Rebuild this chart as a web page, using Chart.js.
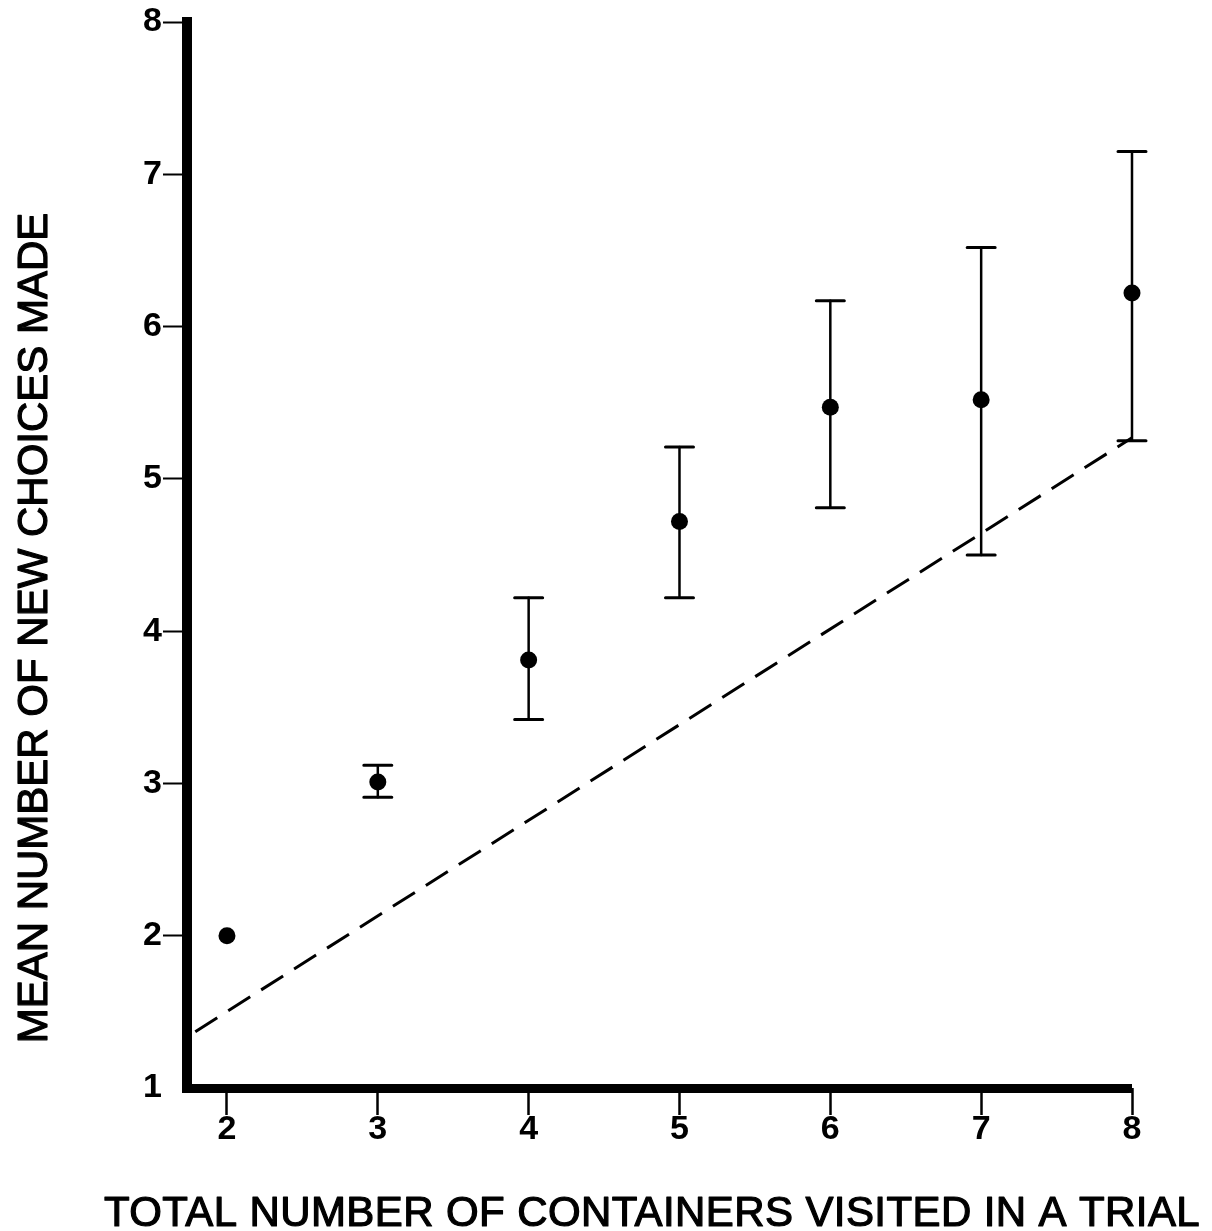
<!DOCTYPE html>
<html>
<head>
<meta charset="utf-8">
<title>New choices per trial</title>
<script src="https://cdn.jsdelivr.net/npm/chart.js@4/dist/chart.umd.min.js"></script>
<style>
  html, body { margin: 0; padding: 0; background: #fff; }
  canvas { display: block; }
</style>
</head>
<body>
<canvas id="myChart" width="1212" height="1231"></canvas>
<script>
// containers visited in a trial and the mean number of new choices
const trials = [2, 3, 4, 5, 6, 7, 8];
const meanNew = [2.0, 3.01, 3.81, 4.72, 5.47, 5.52, 6.22];
// error bar ends (none at 2)
const errLow = [null, 2.91, 3.42, 4.22, 4.81, 4.50, 5.25];
const errHigh = [null, 3.12, 4.22, 5.21, 6.17, 6.52, 7.15];
// dashed line
const dashX = [1.79, 8];
const dashY = [1.37, 5.27];

const yTicks = [1, 2, 3, 4, 5, 6, 7, 8];
const xTitle = 'TOTAL NUMBER OF CONTAINERS VISITED IN A TRIAL';
const yTitle = 'MEAN NUMBER OF NEW CHOICES MADE';

const FONT = '"Liberation Sans", Arial, Helvetica, sans-serif';

// vertical bars with caps, drawn through the chart scales
const errorBars = {
    id: 'errorBars',
    afterDatasetsDraw(chart) {
        const ctx = chart.ctx;
        const x = chart.scales.x;
        const y = chart.scales.y;
        ctx.save();
        ctx.strokeStyle = '#000';
        ctx.lineCap = 'round';
        trials.forEach((t, i) => {
            if (errLow[i] == null) return;
            const px = x.getPixelForValue(t);
            const top = y.getPixelForValue(errHigh[i]);
            const bot = y.getPixelForValue(errLow[i]);
            ctx.lineWidth = 2.5;
            ctx.beginPath();
            ctx.moveTo(px, top);
            ctx.lineTo(px, bot);
            ctx.stroke();
            ctx.lineWidth = 3;
            ctx.beginPath();
            ctx.moveTo(px - 14, top);
            ctx.lineTo(px + 14, top);
            ctx.moveTo(px - 14, bot);
            ctx.lineTo(px + 14, bot);
            ctx.stroke();
        });
        ctx.restore();
    }
};

// axis titles, slightly heavier than the plain face
const axisTitles = {
    id: 'axisTitles',
    afterDraw(chart) {
        const ctx = chart.ctx;
        ctx.save();
        ctx.fillStyle = '#000';
        ctx.strokeStyle = '#000';
        ctx.lineWidth = 1.2;
        ctx.lineJoin = 'round';
        ctx.font = '42px ' + FONT;
        ctx.textAlign = 'center';
        ctx.textBaseline = 'alphabetic';
        ctx.letterSpacing = '0.4px';
        ctx.fillText(xTitle, 652, 1226);
        ctx.strokeText(xTitle, 652, 1226);
        ctx.letterSpacing = '0px';
        ctx.translate(47, 628);
        ctx.rotate(-Math.PI / 2);
        ctx.fillText(yTitle, 0, 0);
        ctx.strokeText(yTitle, 0, 0);
        ctx.restore();
    }
};

const isOne = c => c.tick && c.tick.value === 1;
const tickFont = { family: FONT, size: 34, weight: 'bold', lineHeight: 1 };

const config = {
    type: 'scatter',
    data: {
        datasets: [
            {
                label: 'dashed',
                data: dashX.map((v, i) => ({ x: v, y: dashY[i] })),
                showLine: true,
                borderColor: '#000',
                borderWidth: 3,
                borderDash: [26, 13],
                pointRadius: 0,
                fill: false,
                clip: false
            },
            {
                label: 'mean',
                data: trials.map((t, i) => ({ x: t, y: meanNew[i] })),
                pointRadius: 8.5,
                pointBorderWidth: 0,
                backgroundColor: '#000',
                borderColor: '#000',
                clip: false
            }
        ]
    },
    options: {
        responsive: false,
        animation: false,
        devicePixelRatio: 1,
        layout: { padding: { left: 0, right: 80, top: 22, bottom: 0 } },
        plugins: {
            legend: { display: false },
            tooltip: { enabled: false }
        },
        scales: {
            x: {
                type: 'linear',
                min: 1.735,
                max: 8,
                afterBuildTicks: s => { s.ticks = trials.map(v => ({ value: v })); },
                afterFit: s => { s.height = 143; },
                border: { display: false },
                grid: { drawOnChartArea: false, tickLength: 27, tickWidth: 2.5, tickColor: '#000' },
                ticks: { color: '#000', padding: -2, maxRotation: 0, font: tickFont }
            },
            y: {
                type: 'linear',
                min: 1,
                max: 8,
                afterBuildTicks: s => { s.ticks = yTicks.map(v => ({ value: v })); },
                afterFit: s => { s.width = 187; },
                border: { display: true, width: 10, color: '#000' },
                grid: {
                    drawOnChartArea: true,
                    color: c => isOne(c) ? '#000' : 'rgba(0,0,0,0)',
                    lineWidth: c => isOne(c) ? 9 : 1,
                    tickColor: c => isOne(c) ? 'rgba(0,0,0,0)' : '#000',
                    tickWidth: 2,
                    tickLength: 24
                },
                ticks: { color: '#000', padding: 1, font: tickFont }
            }
        }
    },
    plugins: [errorBars, axisTitles]
};

new Chart(document.getElementById('myChart'), config);
</script>
</body>
</html>
